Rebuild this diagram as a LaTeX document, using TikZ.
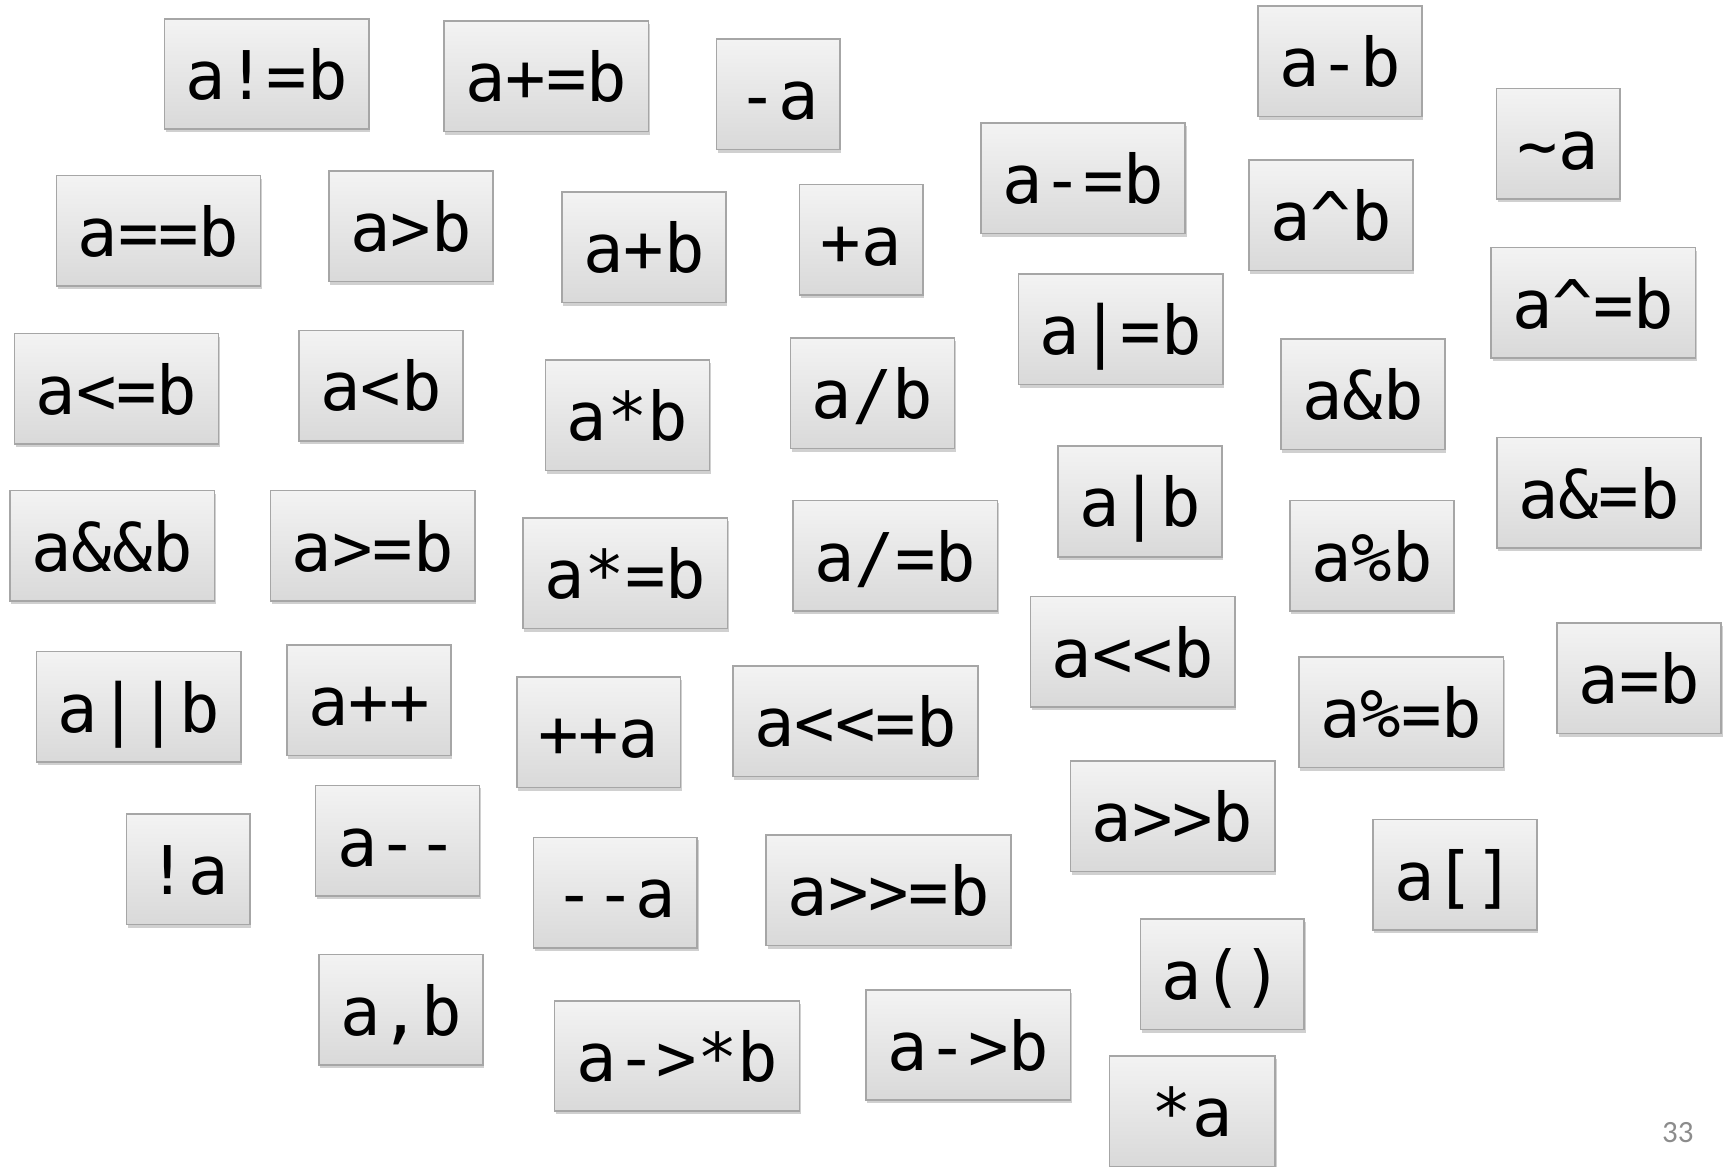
\documentclass[tikz,border=0pt]{standalone}
\usepackage{fontspec}
\newfontfamily\opfont{DejaVu Sans Mono}
\newfontfamily\numfont{Carlito}
\usetikzlibrary{shadows}
\definecolor{boxtop}{HTML}{F3F3F3}
\definecolor{boxbot}{HTML}{D9D9D9}
\definecolor{boxline}{HTML}{A6A6A6}
\definecolor{pagenum}{HTML}{8C8C8C}
\tikzset{
  opbox/.style={draw=boxline, line width=0.7pt, top color=boxtop, bottom color=boxbot,
    inner xsep=9.65pt, inner ysep=0pt, text height=36.5pt, text depth=13.5pt,
    outer sep=0pt, font=\opfont\fontsize{30.4pt}{31pt}\selectfont, text=black,
    drop shadow={shadow xshift=0.6pt, shadow yshift=-1.4pt, opacity=0.3, fill=black!60}},
  pnum/.style={font=\numfont\fontsize{14pt}{15pt}\selectfont, text=pagenum, inner sep=0pt}
}
\begin{document}
\begin{tikzpicture}[x=0.5pt,y=-0.5pt]
\fill[white] (0,0) rectangle (1568,1056);
\useasboundingbox (0,0) rectangle (1568,1056);
\node[opbox] (n1) at (241.5,67) {a!=b};
\node[opbox] (n2) at (494.5,69) {a+=b};
\node[opbox] (n3) at (704.5,85.5) {-a};
\node[opbox] (n4) at (1213,55.5) {a-b};
\node[opbox] (n5) at (1410.5,130) {\textasciitilde a};
\node[opbox] (n6) at (980.5,161.5) {a-=b};
\node[opbox] (n7) at (1205,195) {a\textasciicircum b};
\node[opbox] (n8) at (1442.5,274) {a\textasciicircum =b};
\node[opbox] (n9) at (143.5,209) {a==b};
\node[opbox] (n10) at (372,205) {a>b};
\node[opbox] (n11) at (583,224) {a+b};
\node[opbox] (n12) at (779.5,217) {+a};
\node[opbox] (n13) at (1014.5,298) {a|=b};
\node[opbox] (n14) at (105.5,352) {a<=b};
\node[opbox] (n15) at (345,349) {a<b};
\node[opbox] (n16) at (568,376) {a*b};
\node[opbox] (n17) at (790,356) {a/b};
\node[opbox] (n18) at (1234,357) {a\&b};
\node[opbox] (n19) at (1032,454) {a|b};
\node[opbox] (n20) at (1447.5,446) {a\&=b};
\node[opbox] (n21) at (101.5,494) {a\&\&b};
\node[opbox] (n22) at (337.5,494) {a>=b};
\node[opbox] (n23) at (566,519) {a*=b};
\node[opbox] (n24) at (810.5,503) {a/=b};
\node[opbox] (n25) at (1242,503) {a\%b};
\node[opbox] (n26) at (1025.5,590) {a<<b};
\node[opbox] (n27) at (1484,614) {a=b};
\node[opbox] (n28) at (125.5,640) {a||b};
\node[opbox] (n29) at (334,634) {a++};
\node[opbox] (n30) at (542,663) {++a};
\node[opbox] (n31) at (774.5,653) {a<<=b};
\node[opbox] (n32) at (1268.5,645) {a\%=b};
\node[opbox] (n33) at (1061.5,739) {a>>b};
\node[opbox] (n34) at (170.5,787) {!a};
\node[opbox] (n35) at (360,761) {a-{}-};
\node[opbox] (n36) at (557,808) {-{}-a};
\node[opbox] (n37) at (804.5,806) {a>>=b};
\node[opbox] (n38) at (1317,792) {a[]};
\node[opbox] (n39) at (1106.5,882) {a()};
\node[opbox] (n40) at (363,914) {a,b};
\node[opbox] (n41) at (613,956) {a->*b};
\node[opbox] (n42) at (876.5,946) {a->b};
\node[opbox, minimum width=75pt] (n43) at (1079.5,1006) {*a};
\node[pnum] (pg) at (1519,1025) {33};
\end{tikzpicture}
\end{document}
